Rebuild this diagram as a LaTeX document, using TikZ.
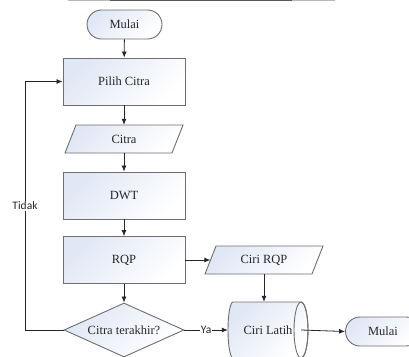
\documentclass[tikz,border=0pt]{standalone}
\usepackage{fontspec}
\setmainfont{Liberation Serif}
\newfontfamily\labelfont{Carlito}
\usetikzlibrary{shapes.geometric,shapes.misc,arrows.meta}

\definecolor{edgec}{HTML}{6E6E6E}
\definecolor{tintc}{HTML}{E0E7F5}
\definecolor{inkc}{HTML}{262626}

% input/output parallelogram: name, x, y, text
\newcommand\ioshape[4]{%
  \path[shaded] (#2-59,#3+14) -- (#2-48,#3-14) -- (#2+59,#3-14) -- (#2+48,#3+14) -- cycle;
  \node[iobox] (#1) at (#2,#3) {#4};%
}

\begin{document}
\begin{tikzpicture}[x=1pt,y=-1pt,
  shaded/.style={draw=edgec, line width=0.9pt, top color=tintc, bottom color=white, shading angle=45},
  txt/.style={font=\fontsize{12.5}{14}\selectfont, text=inkc, inner sep=0pt},
  process/.style={shaded, txt, rectangle, minimum width=122pt, minimum height=47pt},
  terminal/.style={shaded, txt, rounded rectangle, minimum width=75pt, minimum height=29pt},
  decision/.style={shaded, txt, diamond, aspect=2.2, minimum width=120pt, minimum height=54pt},
  iobox/.style={txt, rectangle, minimum width=107pt, minimum height=28pt},
  storebox/.style={txt, rectangle, minimum width=80pt, minimum height=56pt},
  flow/.style={draw=inkc, line width=0.8pt, -{Latex[length=6pt,width=5pt]}},
  tag/.style={font=\labelfont\fontsize{11.5}{13}\selectfont, text=inkc, fill=white, inner sep=1pt}
]
\path[use as bounding box, clip] (0,0) rectangle (409,356);

% rule along the top edge
\draw[gray!55, line width=1.6pt] (68,0) -- (335,0);
\draw[gray!70!black, line width=1.6pt] (110,0) -- (292,0);

% steps
\node[terminal] (start) at (124.5,24.5) {Mulai};
\node[process] (pick) at (124,81.5) {Pilih Citra};
\ioshape{img}{124}{139}{Citra}
\node[process] (dwt) at (124,195.5) {DWT};
\node[process] (rqp) at (124,260) {RQP};
\ioshape{feat}{264}{260}{Ciri RQP}
\node[decision] (last) at (124,330) {Citra terakhir?};

% stored data: curved left side, full end ellipse on the right
\path[shaded] (233,302) -- (301,302)
  arc[start angle=90, end angle=-90, x radius=7pt, y radius=28pt]
  -- (233,358)
  arc[start angle=270, end angle=90, x radius=5pt, y radius=28pt] -- cycle;
\draw[edgec, line width=0.9pt] (301,330) ellipse[x radius=7pt, y radius=28pt];
\node[storebox] (train) at (268,330) {Ciri Latih};

\node[terminal] (stop) at (383,331.5) {Mulai};

% connectors
\draw[flow] (start) -- (pick);
\draw[flow] (pick) -- (img);
\draw[flow] (img) -- (dwt);
\draw[flow] (dwt) -- (rqp);
\draw[flow] (rqp) -- (last);
\draw[flow] (rqp.east) -- (feat.west);
\draw[flow] (feat.south) -- (feat.south |- train.north);
\draw[flow] (last.east) -- node[tag] {Ya} (train.west);
\draw[flow] ([xshift=-7pt]train.east) -- (stop.west);

\coordinate (loop) at (25,330);
\draw[flow] (last.west) -- (loop) |- node[tag, pos=0.25] {Tidak} (pick.west);
\end{tikzpicture}
\end{document}
